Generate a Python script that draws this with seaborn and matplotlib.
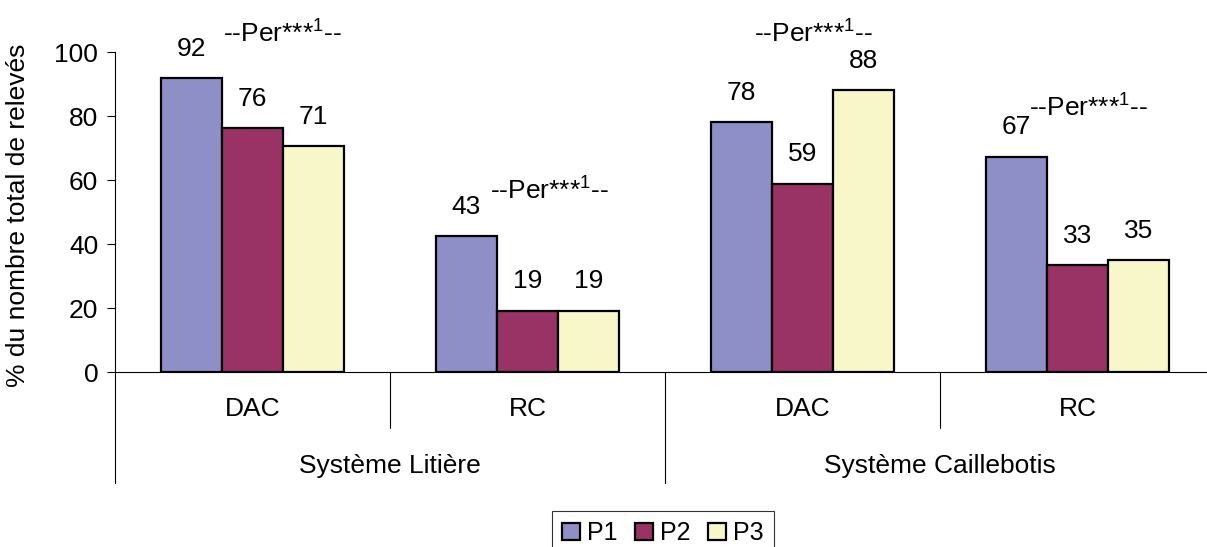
import matplotlib
matplotlib.use("Agg")
import matplotlib.pyplot as plt
import seaborn as sns
import pandas as pd
from matplotlib.transforms import blended_transform_factory

# ---- data ----
groups = ["Système Litière", "Système Caillebotis"]
categories = ["DAC", "RC", "DAC", "RC"]
cells = ["Litière DAC", "Litière RC", "Caillebotis DAC", "Caillebotis RC"]
periods = ["P1", "P2", "P3"]
p1 = [91.9, 42.6, 78.2, 67.3]
p2 = [76.2, 19.2, 58.9, 33.3]
p3 = [70.6, 19.2, 88.2, 34.9]
sig_label = r"--Per***$^{\mathregular{1}}$--"
y_label = "% du nombre total de relevés"

# layout of significance labels (data coords)
sig_x = [0.11, 1.08, 2.04, 3.04]
sig_y = [106, 57, 106, 83]

colors = ["#8F8FC8", "#993366", "#F8F7C9"]

df = pd.DataFrame({
    "cell": cells * 3,
    "period": [p for p in periods for _ in cells],
    "value": p1 + p2 + p3,
})

sns.set_style("white")
plt.rcParams["font.family"] = ["Liberation Sans", "DejaVu Sans"]
plt.rcParams["mathtext.fontset"] = "custom"
plt.rcParams["mathtext.rm"] = "Liberation Sans"
for k in ["text.color", "axes.labelcolor", "xtick.color", "ytick.color"]:
    plt.rcParams[k] = "black"

fig = plt.figure(figsize=(12.07, 5.47), dpi=100)
ax = fig.add_axes([115 / 1207, (547 - 372) / 547, 1100 / 1207, 320 / 547])

sns.barplot(data=df, x="cell", y="value", hue="period", order=cells,
            hue_order=periods, palette=colors, saturation=1, width=0.667,
            gap=0, edgecolor="black", linewidth=1.6, errorbar=None,
            legend=False, ax=ax)

ax.set_xlim(-0.5, 3.5)
ax.set_ylim(0, 100)
ax.set_yticks([0, 20, 40, 60, 80, 100])
ax.set_xticks(range(len(categories)))
ax.set_xticklabels(categories)
ax.tick_params(axis="x", length=0, pad=18, labelsize=19)
ax.tick_params(axis="y", direction="out", length=6, width=0.8, pad=6,
               labelsize=19, left=True, color="black")
ax.set_xlabel("")
ax.set_ylabel(y_label, fontsize=19, va="center")
ax.yaxis.set_label_coords(-0.088, 0.49)

for s in ["top", "right"]:
    ax.spines[s].set_visible(False)
for s in ["left", "bottom"]:
    ax.spines[s].set_color("black")
    ax.spines[s].set_linewidth(0.8)

# value labels
for cont in ax.containers:
    for bar in cont.patches:
        h = bar.get_height()
        ax.annotate(f"{h:.0f}", (bar.get_x() + bar.get_width() / 2, h),
                    xytext=(0, 21), textcoords="offset points",
                    ha="center", va="center", fontsize=19)

# significance labels
for x, y in zip(sig_x, sig_y):
    ax.text(x, y, sig_label, ha="center", va="center", fontsize=19,
            clip_on=False)

# hierarchical axis separators and group labels
trans = blended_transform_factory(ax.transData, ax.transAxes)
for x in [0.5, 2.5]:
    ax.plot([x, x], [0, -0.174], transform=trans, clip_on=False,
            color="black", lw=0.8)
for x in [-0.5, 1.5, 3.5]:
    ax.plot([x, x], [0, -0.346], transform=trans, clip_on=False,
            color="black", lw=0.8)
for i, g in enumerate(groups):
    ax.text(0.5 + 2 * i, -0.295, g, transform=trans, ha="center",
            va="center", fontsize=19)

handles = [c.patches[0] for c in ax.containers]
leg = fig.legend(handles=handles, labels=periods, loc="upper center",
                 bbox_to_anchor=(663 / 1207, 1 - 511 / 547), ncol=3,
                 frameon=True, fancybox=False, edgecolor="black",
                 fontsize=18, handlelength=0.7, handleheight=0.7,
                 handletextpad=0.3, columnspacing=0.7, borderpad=0.4,
                 borderaxespad=0)
leg.get_frame().set_linewidth(0.8)

fig.savefig("out.png", dpi=100)
